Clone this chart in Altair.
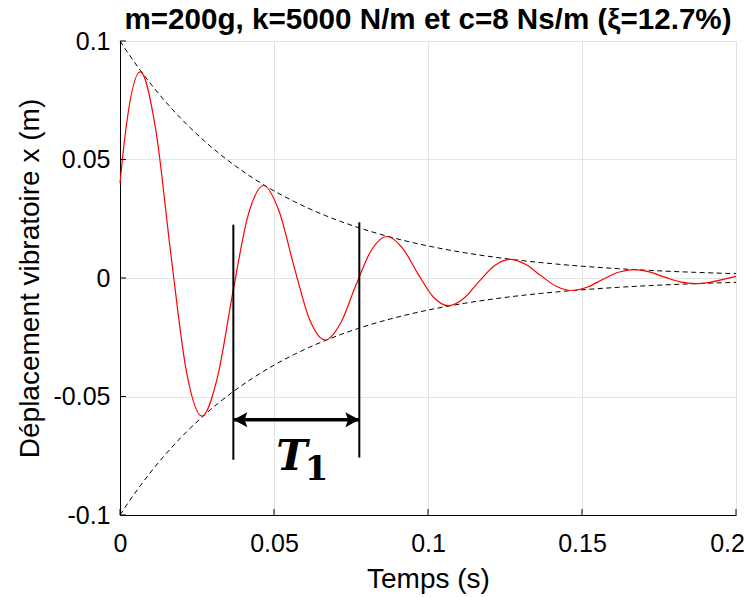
import altair as alt
import pandas as pd

# ---- data ----
t = [0.0, 0.00157, 0.00658, 0.01159, 0.01660, 0.02160, 0.02661, 0.03162, 0.03663,
     0.04163, 0.04664, 0.05165, 0.05666, 0.06166, 0.06667, 0.07168, 0.07669,
     0.08169, 0.08670, 0.09171, 0.09672, 0.10172, 0.10673, 0.11174, 0.11675,
     0.12175, 0.12676, 0.13177, 0.13678, 0.14178, 0.14679, 0.15180, 0.15681,
     0.16181, 0.16682, 0.17183, 0.17684, 0.18184, 0.18685, 0.19186, 0.19687, 0.2]
x = [0.0400, 0.05929, 0.08696, 0.06274, 0.00909, -0.03972, -0.05826, -0.04203,
     -0.00609, 0.02661, 0.03903, 0.02816, 0.00408, -0.01782, -0.02615, -0.01886,
     -0.00273, 0.01194, 0.01752, 0.01264, 0.00183, -0.00800, -0.01173, -0.00847,
     -0.00123, 0.00536, 0.00786, 0.00567, 0.00082, -0.00359, -0.00527, -0.00380,
     -0.00055, 0.00241, 0.00353, 0.00255, 0.00037, -0.00161, -0.00236, -0.00171,
     -0.00025, 0.00065]
env_up = [0.1, 0.09690, 0.08767, 0.07931, 0.07175, 0.06492, 0.05873, 0.05313,
          0.04807, 0.04349, 0.03934, 0.03559, 0.03220, 0.02913, 0.02636, 0.02385,
          0.02157, 0.01952, 0.01766, 0.01597, 0.01445, 0.01308, 0.01183, 0.01070,
          0.00968, 0.00876, 0.00792, 0.00717, 0.00649, 0.00587, 0.00531, 0.00480,
          0.00435, 0.00393, 0.00356, 0.00322, 0.00291, 0.00263, 0.00238, 0.00216,
          0.00195, 0.00183]
env_lo = [-0.1, -0.09690, -0.08767, -0.07931, -0.07175, -0.06492, -0.05873, -0.05313,
          -0.04807, -0.04349, -0.03934, -0.03559, -0.03220, -0.02913, -0.02636, -0.02385,
          -0.02157, -0.01952, -0.01766, -0.01597, -0.01445, -0.01308, -0.01183, -0.01070,
          -0.00968, -0.00876, -0.00792, -0.00717, -0.00649, -0.00587, -0.00531, -0.00480,
          -0.00435, -0.00393, -0.00356, -0.00322, -0.00291, -0.00263, -0.00238, -0.00216,
          -0.00195, -0.00183]

x_ticks = [0, 0.05, 0.1, 0.15, 0.2]
y_ticks = [-0.1, -0.05, 0, 0.05, 0.1]

marker_t = [0.0368, 0.0777]
marker_top = [0.0225, 0.0235]
marker_bot = [-0.0767, -0.0758]
arrow_y = [-0.0598, -0.0598]
arrow_side = ["l", "r"]

label_T = {"t": 0.0558, "x": -0.0757, "text": "T"}
label_1 = {"t": 0.0638, "x": -0.0812, "text": "1"}

TITLE = "m=200g, k=5000 N/m et c=8 Ns/m (\u03be=12.7%)"
W, H = 616, 474

df = pd.DataFrame({"t": t, "x": x, "up": env_up, "lo": env_lo})
marks = pd.DataFrame({"t": marker_t, "top": marker_top, "bot": marker_bot})
arrow = pd.DataFrame({"t": marker_t, "y": arrow_y, "side": arrow_side})
arrow_line = pd.DataFrame({"t1": [marker_t[0]], "t2": [marker_t[1]], "y": [arrow_y[0]]})

xs = alt.Scale(domain=[0, 0.2], nice=False, zero=False)
ys = alt.Scale(domain=[-0.1, 0.1], nice=False, zero=False)

x_axis = alt.Axis(values=x_ticks, title="Temps (s)", labelExpr="'' + datum.value",
                  titleY=64, titleBaseline="middle", labelPadding=16, labelFlush=False,
                  labelOffset={"condition": {"test": "datum.value == 0.2", "value": -9},
                               "value": 0})
y_axis = alt.Axis(values=y_ticks, title="D\u00e9placement vibratoire x (m)",
                  labelExpr="'' + datum.value", titleX=-90, titleBaseline="middle",
                  labelPadding=10, labelFlush=False)


def X(f):
    return alt.X(f, type="quantitative", scale=xs, axis=x_axis)


def Y(f):
    return alt.Y(f, type="quantitative", scale=ys, axis=y_axis)


base = alt.Chart(df)

upper = base.mark_line(color="black", strokeWidth=1, strokeDash=[5, 3.5],
                       interpolate="monotone").encode(x=X("t"), y=Y("up"))
lower = base.mark_line(color="black", strokeWidth=1, strokeDash=[5, 3.5],
                       interpolate="monotone").encode(x=X("t"), y=Y("lo"))
curve = base.mark_line(color="#ff0000", strokeWidth=1.2,
                       interpolate="monotone").encode(x=X("t"), y=Y("x"))

vlines = alt.Chart(marks).mark_rule(color="black", strokeWidth=2).encode(
    x=X("t"), y=Y("top"), y2="bot")

aline = alt.Chart(arrow_line).mark_rule(color="black", strokeWidth=3.5).encode(
    x=X("t1"), x2="t2", y=Y("y"))

pathL = "M0,0L1,-0.54L0.8,0L1,0.54Z"
pathR = "M0,0L-1,-0.54L-0.8,0L-1,0.54Z"
heads = alt.Chart(arrow).mark_point(filled=True, size=784, color="black",
                                    opacity=1, strokeWidth=0).encode(
    x=X("t"), y=Y("y"),
    shape=alt.Shape("side:N", scale=alt.Scale(domain=["l", "r"], range=[pathL, pathR]),
                    legend=None))

tT = alt.Chart(pd.DataFrame([label_T])).mark_text(
    font="DejaVu Serif", fontSize=42, fontWeight="bold", fontStyle="italic",
    baseline="middle", align="center", color="black").encode(
    x=X("t"), y=Y("x"), text="text:N")
t1 = alt.Chart(pd.DataFrame([label_1])).mark_text(
    font="DejaVu Serif", fontSize=34, fontWeight="bold",
    baseline="middle", align="center", color="black").encode(
    x=X("t"), y=Y("x"), text="text:N")

# inward MATLAB-style ticks
xt = alt.Chart(pd.DataFrame({"v": x_ticks})).mark_rule(
    color="black", strokeWidth=1).encode(x=X("v"), y=alt.value(H), y2=alt.value(H - 6))
yt = alt.Chart(pd.DataFrame({"v": y_ticks})).mark_rule(
    color="black", strokeWidth=1).encode(y=Y("v"), x=alt.value(0), x2=alt.value(6))

chart = alt.layer(upper, lower, curve, vlines, aline, heads, tT, t1, xt, yt).properties(
    width=W, height=H,
    title=alt.TitleParams(TITLE, font="Liberation Sans", fontSize=29.6, fontWeight="bold",
                          color="black", anchor="middle", frame="group", offset=6, dy=13),
    autosize=alt.AutoSizeParams(type="none"),
    padding={"left": 112, "top": 33, "right": 9, "bottom": 80},
).configure_view(strokeWidth=0).configure_axis(
    labelFont="Liberation Sans", labelFontSize=25, labelColor="black",
    titleFont="Liberation Sans", titleFontSize=28, titleFontWeight="normal",
    titleColor="black", domainColor="black", domainWidth=1, ticks=False,
    gridColor="#e3e3e3", gridWidth=1,
)

chart.save("out.html", embed_options={"renderer": "svg", "actions": False})
